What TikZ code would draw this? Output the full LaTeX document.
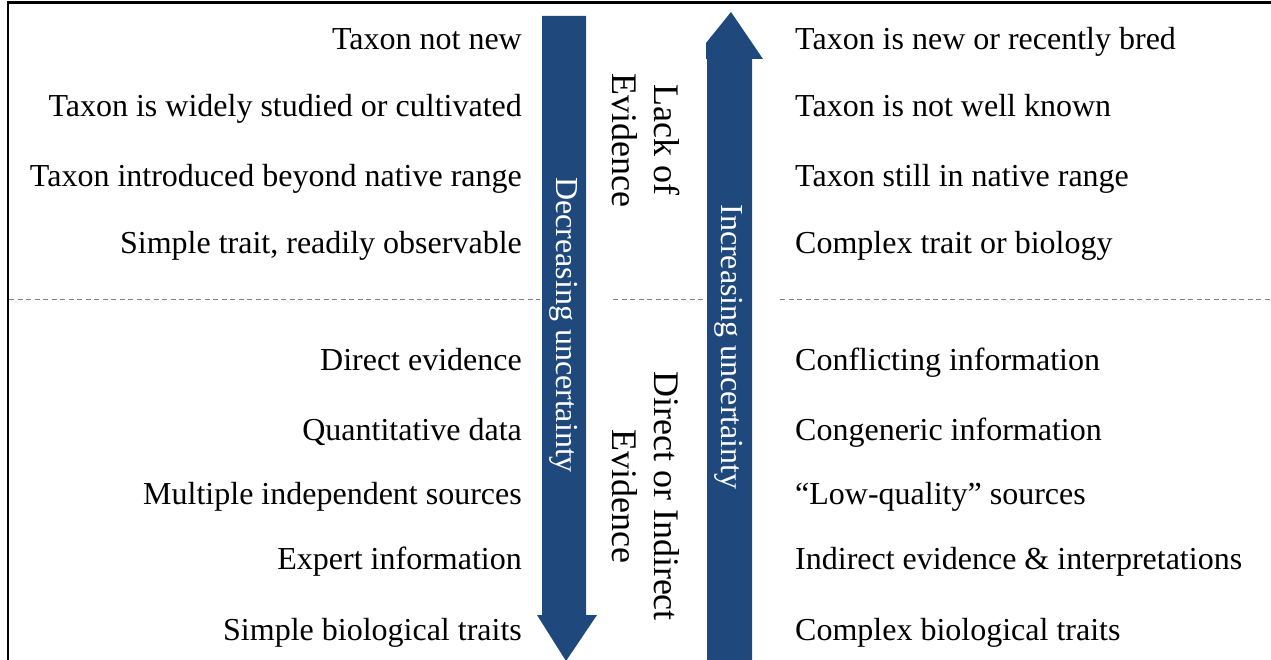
\documentclass[tikz,border=0pt]{standalone}
\usepackage{fontspec}
\setmainfont{Liberation Serif}
\usepackage{xcolor}
\definecolor{arrowblue}{HTML}{1F497D}

\begin{document}
\begin{tikzpicture}[x=1pt, y=-1pt, every node/.style={font=\fontsize{32}{41}\selectfont, inner sep=0pt}, lefttext/.style={anchor=base east}, righttext/.style={anchor=base west}, sidetext/.style={rotate=-90, align=center, font=\fontsize{36}{42}\selectfont}, arrowtext/.style={rotate=-90, text=white}, divider/.style={draw=gray, line width=1pt, dash pattern=on 5pt off 3.5pt}]
  \useasboundingbox (0,0) rectangle (1271,660);
  % frame
  \draw[line width=2.6pt] (7.8,660) -- (7.8,2.5) -- (1271,2.5);
  % dividers
  \draw[divider] (9,299) -- (540,299);
  \draw[divider] (613,299) -- (707,299);
  \draw[divider] (780,299) -- (1271,299);
  % arrows
  \fill[arrowblue] (542,16) -- (586,16) -- (586,615) -- (597,615) -- (566,661) -- (537,615) -- (542,615) -- cycle;
  \fill[arrowblue] (707,661) -- (707,59) -- (706,59) -- (706,43) -- (731,12) -- (763,59) -- (752,59) -- (752,661) -- cycle;
  \node[arrowtext] (dec) at (564,325) {Decreasing uncertainty};
  \node[arrowtext] (inc) at (729,347) {Increasing uncertainty};
  \node[sidetext] (lack) at (646,140) {Lack of\\Evidence};
  \node[sidetext] (direct) at (646,496) {Direct or Indirect\\Evidence};
  % left column
  \node[lefttext] (l1) at (522,50) {Taxon not new};
  \node[lefttext] (l2) at (522,117) {Taxon is widely studied or cultivated};
  \node[lefttext] (l3) at (522,187) {Taxon introduced beyond native range};
  \node[lefttext] (l4) at (522,254) {Simple trait, readily observable};
  \node[lefttext] (l5) at (522,370) {Direct evidence};
  \node[lefttext] (l6) at (522,440) {Quantitative data};
  \node[lefttext] (l7) at (522,504) {Multiple independent sources};
  \node[lefttext] (l8) at (522,569) {Expert information};
  \node[lefttext] (l9) at (522,640) {Simple biological traits};
  % right column
  \node[righttext] (r1) at (795,50) {Taxon is new or recently bred};
  \node[righttext] (r2) at (795,117) {Taxon is not well known};
  \node[righttext] (r3) at (795,187) {Taxon still in native range};
  \node[righttext] (r4) at (795,254) {Complex trait or biology};
  \node[righttext] (r5) at (795,370) {Conflicting information};
  \node[righttext] (r6) at (795,440) {Congeneric information};
  \node[righttext] (r7) at (795,504) {“Low-quality” sources};
  \node[righttext] (r8) at (795,569) {Indirect evidence \& interpretations};
  \node[righttext] (r9) at (795,640) {Complex biological traits};
\end{tikzpicture}
\end{document}
